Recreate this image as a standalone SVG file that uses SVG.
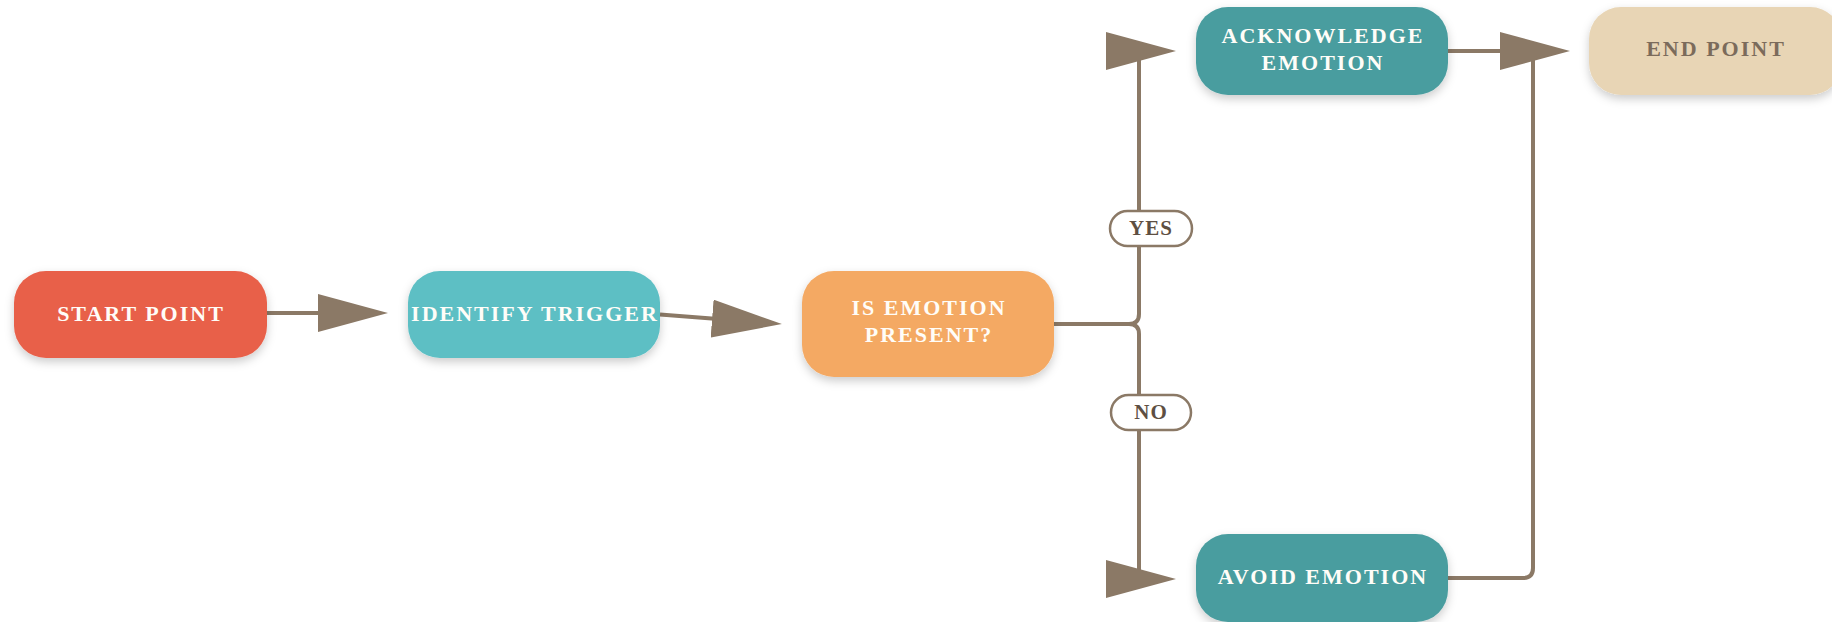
<svg xmlns="http://www.w3.org/2000/svg" width="1832" height="622" viewBox="0 0 1832 622">
  <style>
    .node-text { font-family: "Liberation Serif", "Times New Roman", serif; font-weight: bold; font-size: 22px; letter-spacing: 2px; text-anchor: middle; fill: #FFFDF8; }
    .end-text { fill: #7B6B5B; }
    .conn { fill: none; stroke: #8B7966; stroke-width: 4; stroke-linejoin: round; marker-end: url(#arrow); }
    .conn-plain { fill: none; stroke: #8B7966; stroke-width: 4; stroke-linejoin: round; }
    .label-box { fill: #FFFFFF; stroke: #8B7966; stroke-width: 2.5; }
    .label-text { font-family: "Liberation Serif", "Times New Roman", serif; font-weight: bold; font-size: 21px; letter-spacing: 1px; text-anchor: middle; fill: #5E4F42; }
    .node-shape { filter: url(#shadow); }
  </style>
  <defs>
    <filter id="shadow" x="-20%" y="-30%" width="140%" height="170%">
      <feDropShadow dx="0" dy="4" stdDeviation="5" flood-color="#000000" flood-opacity="0.2"/>
    </filter>
    <marker id="arrow" markerUnits="userSpaceOnUse" markerWidth="70" markerHeight="38" viewBox="0 0 70 38" refX="35" refY="19" orient="auto">
      <polygon points="0,0 70,19 0,38" fill="#8B7966"/>
    </marker>
  </defs>
  <rect width="1832" height="622" fill="#FFFFFF"/>

  <g id="connectors">
    <path class="conn" d="M266,313 L353,313"/>
    <path class="conn" d="M660,314.5 L747,321.3"/>
    <path class="conn" d="M1054,324 L1129,324 Q1139,324 1139,314 L1139,58 Q1139,51 1141,51"/>
    <path class="conn" d="M1054,324 L1129,324 Q1139,324 1139,334 L1139,572 Q1139,579 1141,579"/>
    <path class="conn" d="M1448,51 L1535,51"/>
    <path class="conn-plain" d="M1448,578 L1523,578 Q1533,578 1533,568 L1533,60"/>
    <g id="label-yes">
      <rect class="label-box" x="1110" y="211" width="82" height="35" rx="17.5"/>
      <text class="label-text" x="1151" y="235">YES</text>
    </g>
    <g id="label-no">
      <rect class="label-box" x="1111" y="395" width="80" height="35" rx="17.5"/>
      <text class="label-text" x="1151" y="419">NO</text>
    </g>
  </g>

  <g id="start">
    <rect class="node-shape" x="14" y="271" width="253" height="87" rx="32" fill="#E8604A"/>
    <text class="node-text" x="141" y="321">START POINT</text>
  </g>
  <g id="identify">
    <rect class="node-shape" x="408" y="271" width="252" height="87" rx="32" fill="#5DBFC4"/>
    <text class="node-text" x="535" y="321">IDENTIFY TRIGGER</text>
  </g>
  <g id="decision">
    <rect class="node-shape" x="802" y="271" width="252" height="106" rx="32" fill="#F4A963"/>
    <text class="node-text" x="929" y="315">IS EMOTION</text>
    <text class="node-text" x="929" y="342">PRESENT?</text>
  </g>
  <g id="acknowledge">
    <rect class="node-shape" x="1196" y="7" width="252" height="88" rx="32" fill="#4A9D9F"/>
    <text class="node-text" x="1323" y="43">ACKNOWLEDGE</text>
    <text class="node-text" x="1323" y="70">EMOTION</text>
  </g>
  <g id="avoid">
    <rect class="node-shape" x="1196" y="534" width="252" height="88" rx="32" fill="#4A9D9F"/>
    <text class="node-text" x="1323" y="584">AVOID EMOTION</text>
  </g>
  <g id="end">
    <rect class="node-shape" x="1589" y="7" width="253" height="88" rx="32" fill="#E8D5B5"/>
    <text class="node-text end-text" x="1716" y="56">END POINT</text>
  </g>
</svg>
